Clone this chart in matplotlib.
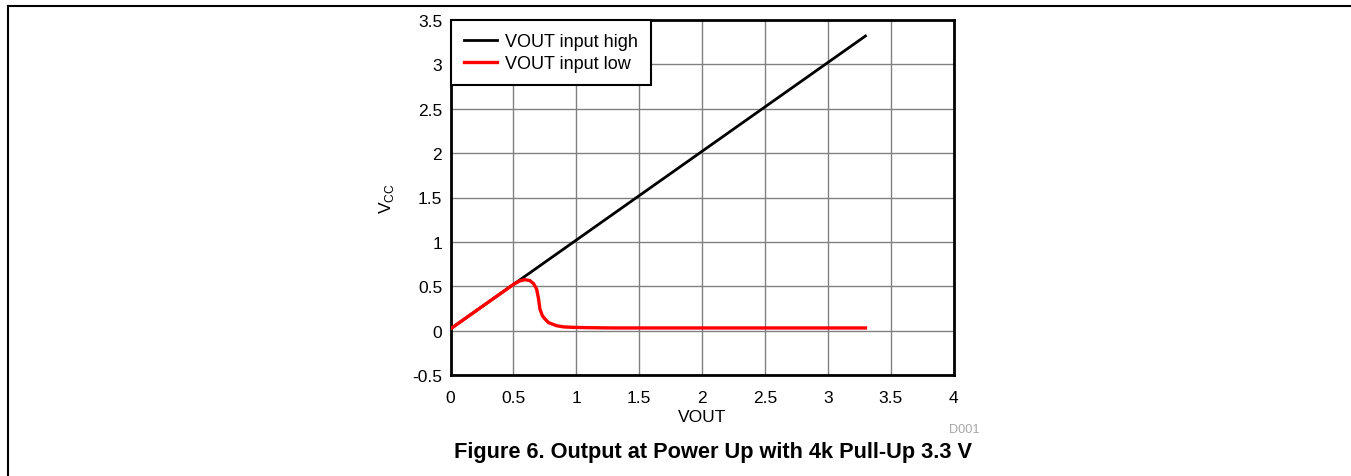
import matplotlib
matplotlib.use("Agg")
import matplotlib.pyplot as plt
from matplotlib.lines import Line2D

plt.rcParams['font.family'] = ['Liberation Sans', 'DejaVu Sans']

# Data
high_x = [0.0, 3.3]
high_y = [0.02, 3.32]
low_x = [0.0, 0.1, 0.2, 0.3, 0.4, 0.5, 0.55, 0.59, 0.63, 0.66, 0.685, 0.70, 0.711, 0.73, 0.751, 0.78, 0.844, 0.9, 0.974, 1.1, 1.3, 1.6, 2.0, 2.5, 3.0, 3.3]
low_y = [0.02, 0.12, 0.22, 0.32, 0.42, 0.52, 0.56, 0.574, 0.565, 0.53, 0.468, 0.36, 0.244, 0.17, 0.131, 0.09, 0.055, 0.042, 0.037, 0.033, 0.03, 0.03, 0.03, 0.03, 0.03, 0.03]
xticks = [0, 0.5, 1, 1.5, 2, 2.5, 3, 3.5, 4]
xtick_labels = ['0', '0.5', '1', '1.5', '2', '2.5', '3', '3.5', '4']
yticks = [-0.5, 0, 0.5, 1, 1.5, 2, 2.5, 3, 3.5]
ytick_labels = ['-0.5', '0', '0.5', '1', '1.5', '2', '2.5', '3', '3.5']

W, H = 1351, 477
fig = plt.figure(figsize=(W / 100, H / 100), dpi=100)
ax = fig.add_axes([450.5 / W, 1 - 376 / H, (953.5 - 450.5) / W, (376 - 21) / H])

ax.plot(high_x, high_y, color='black', lw=2, label='VOUT input high', zorder=3)
ax.plot(low_x, low_y, color='#ff0000', lw=2.4, label='VOUT input low', zorder=4)

ax.set_xlim(0, 4)
ax.set_ylim(-0.5, 3.5)
ax.set_xticks(xticks)
ax.set_xticklabels(xtick_labels)
ax.set_yticks(yticks)
ax.set_yticklabels(ytick_labels)
ax.tick_params(length=0, labelsize=12.5)
ax.tick_params(axis='x', pad=11)
ax.tick_params(axis='y', pad=6)
ax.grid(True, color='#808080', lw=1)
ax.set_axisbelow(True)
for s in ax.spines.values():
    s.set_linewidth(2)
    s.set_color('black')

ax.set_xlabel('VOUT', fontsize=12.5, labelpad=2.5)
ax.set_ylabel(r'V$_{\mathregular{CC}}$', fontsize=12.5, labelpad=12)

leg = ax.legend(loc='upper left', fontsize=13, frameon=True, fancybox=False,
                borderaxespad=0, handlelength=1.85, borderpad=0.72, labelspacing=0.3,
                handletextpad=0.45)
leg.get_frame().set_edgecolor('black')
leg.get_frame().set_linewidth(1.5)
leg.get_frame().set_alpha(1)

fig.text(980 / W, 1 - 432.7 / H, 'D001', fontsize=9.2, color='#a6a6a6', ha='right', va='baseline')
fig.text(713.5 / W, 1 - 453 / H, 'Figure 6. Output at Power Up with 4k Pull-Up 3.3 V',
         fontsize=15.7, fontweight='bold', ha='center', va='center')

fig.add_artist(Line2D([8 / W, 1], [1 - 7 / H, 1 - 7 / H], transform=fig.transFigure, color='black', lw=1.5))
fig.add_artist(Line2D([8 / W, 8 / W], [1 - 7 / H, 0], transform=fig.transFigure, color='black', lw=1.5))

fig.savefig('out.png', dpi=100)
